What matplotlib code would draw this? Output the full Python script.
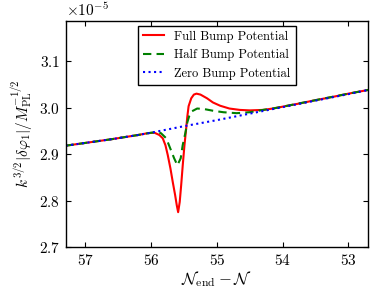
import matplotlib
matplotlib.use('Agg')
import matplotlib.pyplot as plt

# e-folds before end of inflation, and |delta phi| in units of 1e-5
n_zero = [57.3, 57.0, 56.6, 56.2, 56.0, 55.5, 55.0, 54.5, 54.0, 53.5, 53.0, 52.7]
amp_zero = [2.918, 2.924, 2.932, 2.941, 2.946, 2.960, 2.973, 2.987, 3.001, 3.015, 3.029, 3.038]

n_full = [57.3, 57.0, 56.6, 56.2, 56.05, 55.95, 55.874, 55.823, 55.782, 55.747, 55.706, 55.671,
          55.635, 55.610, 55.589, 55.565, 55.543, 55.519, 55.493, 55.467, 55.45, 55.43, 55.39,
          55.35, 55.31, 55.25, 55.15, 55.06, 54.95, 54.81, 54.65, 54.50, 54.30, 54.15, 54.0,
          53.74, 53.5, 53.24, 53.0, 52.7]
amp_full = [2.918, 2.924, 2.932, 2.941, 2.945, 2.946, 2.941, 2.934, 2.919, 2.898, 2.869, 2.840,
            2.812, 2.790, 2.775, 2.797, 2.833, 2.876, 2.919, 2.955, 2.980, 3.003, 3.020,
            3.028, 3.030, 3.028, 3.020, 3.011, 3.004, 2.998, 2.995, 2.994, 2.995, 2.998, 3.002,
            3.009, 3.016, 3.023, 3.030, 3.038]

n_half = [57.3, 57.0, 56.6, 56.2, 56.0, 55.92, 55.85, 55.77, 55.70, 55.65, 55.60,
          55.55, 55.52, 55.48, 55.45, 55.42, 55.38, 55.30, 55.20, 55.05, 54.90, 54.70,
          54.50, 54.30, 54.15, 54.0, 53.5, 53.0, 52.7]
amp_half = [2.918, 2.924, 2.932, 2.941, 2.946, 2.947, 2.945, 2.934, 2.909, 2.891, 2.876,
            2.891, 2.919, 2.945, 2.968, 2.982, 2.992, 2.998, 2.997, 2.993, 2.990, 2.988,
            2.990, 2.995, 2.998, 3.002, 3.016, 3.030, 3.038]

x_ticks = [57, 56, 55, 54, 53]
y_ticks = [2.7, 2.8, 2.9, 3.0, 3.1]

plt.rcParams['font.family'] = 'cmr10'
plt.rcParams['mathtext.fontset'] = 'cm'
plt.rcParams['axes.formatter.use_mathtext'] = True
plt.rcParams['axes.unicode_minus'] = False

fig = plt.figure(figsize=(3.88, 2.91), dpi=100)
ax = fig.add_axes([0.169, 0.151, 0.780, 0.778])

scale = 1e-5
ax.plot(n_full, [a * scale for a in amp_full], color='#ff0000', lw=1.5, label='Full Bump Potential')
ax.plot(n_half, [a * scale for a in amp_half], color='#008000', lw=1.5, linestyle=(0, (4, 2.5)),
        label='Half Bump Potential')
ax.plot(n_zero, [a * scale for a in amp_zero], color='#0000ff', lw=1.5, linestyle=':',
        label='Zero Bump Potential')

ax.set_xlim(57.3, 52.7)
ax.set_ylim(2.7 * scale, 3.187 * scale)
ax.set_xticks(x_ticks)
ax.set_yticks([y * scale for y in y_ticks])
ax.tick_params(direction='in', top=True, right=True, length=3.5, labelsize=11, pad=4)
ax.yaxis.get_offset_text().set_fontsize(11)
for s in ax.spines.values():
    s.set_linewidth(1.0)

ax.set_xlabel(r'$\mathcal{N}_{\rm end}-\mathcal{N}$', fontsize=12, labelpad=1)
ax.set_ylabel(r'$k^{3/2}|\delta\varphi_1|/M_{\rm PL}^{-1/2}$', fontsize=11, labelpad=3)

leg = ax.legend(loc='upper center', fontsize=9, fancybox=False, framealpha=1,
                handlelength=1.7, borderaxespad=0.4)
leg.get_frame().set_edgecolor('black')
leg.get_frame().set_linewidth(1.0)

fig.savefig('out.png', dpi=100)
